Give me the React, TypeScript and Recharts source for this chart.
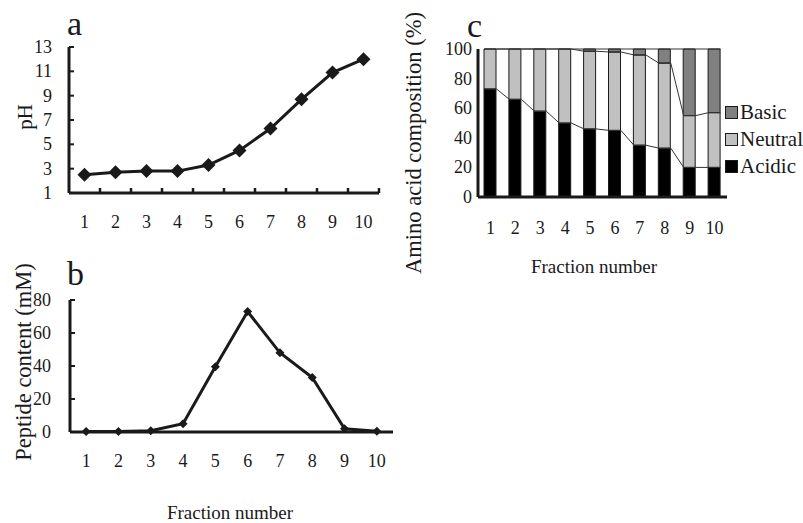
import {
  Bar,
  ComposedChart,
  Legend,
  Line,
  LineChart,
  XAxis,
  YAxis,
} from 'recharts'

const fractions = ['1', '2', '3', '4', '5', '6', '7', '8', '9', '10']
const phValues = [2.5, 2.7, 2.8, 2.8, 3.3, 4.5, 6.3, 8.7, 10.9, 12.0]
const phTicks = [1, 3, 5, 7, 9, 11, 13]
const peptideValues = [0.3, 0.3, 0.8, 5, 39.5, 73, 48, 33, 2, 0.5]
const peptideTicks = [0, 20, 40, 60, 80]
const acidicValues = [73, 66, 58, 50, 46, 45, 35, 33, 20, 20]
const neutralValues = [27, 34, 42, 50, 52.5, 53, 61, 57.5, 35, 37]
const basicValues = [0, 0, 0, 0, 1.5, 2, 4, 9.5, 45, 43]
const compositionTicks = [0, 20, 40, 60, 80, 100]
const legendOrder = ['Basic', 'Neutral', 'Acidic']

const FONT = '"Liberation Serif", "Times New Roman", serif'
const INK = '#1a1a1a'
const ACIDIC = '#000000'
const NEUTRAL = '#c0c0c0'
const BASIC = '#808080'

const phData = fractions.map((f, i) => ({ fraction: f, ph: phValues[i] }))
const peptideData = fractions.map((f, i) => ({ fraction: f, peptide: peptideValues[i] }))
const compositionData = fractions.map((f, i) => ({
  fraction: f,
  acidic: acidicValues[i],
  neutral: neutralValues[i],
  basic: basicValues[i],
}))

// series lines of panel c join the tops of the stacked segments, bar edge to bar edge
const C_PLOT_W = 249
const BAR_W = 12
const halfBar = BAR_W / 2 / (C_PLOT_W / fractions.length)
const acidicTops = acidicValues
const neutralTops = acidicValues.map((v, i) => v + neutralValues[i])
const basicTops = neutralTops.map((v, i) => v + basicValues[i])
function seriesLine(tops: number[]) {
  return tops.flatMap((v, i) => [
    { x: i + 1 - halfBar, y: v },
    { x: i + 1 + halfBar, y: v },
  ])
}

function diamond(r: number) {
  return (props: any) => {
    const { cx, cy, index } = props
    return (
      <path
        key={index}
        d={`M${cx},${cy - r}L${cx + r},${cy}L${cx},${cy + r}L${cx - r},${cy}Z`}
        fill={INK}
      />
    )
  }
}

function yTick(margin: number, inner: number) {
  return (props: any) => {
    const { x, y, payload } = props
    return (
      <g>
        <text x={x} y={y} textAnchor="end" dominantBaseline="central" fontSize={18} fontFamily={FONT} fill={INK}>
          {payload.value}
        </text>
        {inner > 0 && <line x1={x + margin} x2={x + margin + inner} y1={y} y2={y} stroke={INK} strokeWidth={2} />}
      </g>
    )
  }
}

function xTick(dy: number, between: number) {
  return (props: any) => {
    const { x, y, payload } = props
    return (
      <g>
        <text x={x} y={y + dy} textAnchor="middle" dominantBaseline="central" fontSize={18} fontFamily={FONT} fill={INK}>
          {payload.value}
        </text>
        {between > 0 && <line x1={x + between} x2={x + between} y1={y} y2={y - 5} stroke={INK} strokeWidth={2.5} />}
      </g>
    )
  }
}

function rotatedTitle(text: string, cx: number, cy: number, size: number) {
  return () => (
    <text
      x={cx}
      y={cy}
      transform={`rotate(-90 ${cx} ${cy})`}
      textAnchor="middle"
      dominantBaseline="central"
      fontSize={size}
      fontFamily={FONT}
      fill={INK}
    >
      {text}
    </text>
  )
}

function bottomTitle(text: string, cx: number, cy: number, size: number) {
  return () => (
    <text x={cx} y={cy} textAnchor="middle" dominantBaseline="central" fontSize={size} fontFamily={FONT} fill={INK}>
      {text}
    </text>
  )
}

function CompositionLegend(props: any) {
  const payload = props.payload ?? []
  const items = legendOrder
    .map((name) => payload.find((p: any) => p.value === name))
    .filter(Boolean)
  return (
    <div style={{ fontFamily: FONT, fontSize: 21, color: INK, marginLeft: -2 }}>
      {items.map((item: any) => (
        <div key={item.value} style={{ display: 'flex', alignItems: 'center', height: 27, whiteSpace: 'nowrap' }}>
          <span
            style={{
              display: 'inline-block',
              width: 11,
              height: 11,
              background: item.color,
              border: `1.5px solid ${INK}`,
              marginRight: 2,
            }}
          />
          {item.value}
        </div>
      ))}
    </div>
  )
}

const axisStyle = { stroke: INK, strokeWidth: 3 }

export default function App() {
  return (
    <div style={{ position: 'absolute', left: 0, top: 0, width: 803, height: 523, background: '#fff' }}>
      <div style={{ position: 'absolute', left: 0, top: 0 }}>
        <LineChart width={400} height={240} data={phData} margin={{ top: 47, right: 21, bottom: 17, left: 29 }}>
          <XAxis
            dataKey="fraction"
            padding={{ left: 15.5, right: 15.5 }}
            axisLine={axisStyle}
            tickLine={false}
            tickSize={0}
            tickMargin={0}
            height={30}
            interval={0}
            tick={xTick(29, 15.5)}
          />
          <YAxis
            domain={[1, 13]}
            ticks={phTicks}
            width={40}
            axisLine={axisStyle}
            tickLine={false}
            tickSize={0}
            tickMargin={17}
            tick={yTick(17, 5)}
            label={rotatedTitle('pH', 25, 117, 21)}
          />
          <Line
            dataKey="ph"
            stroke={INK}
            strokeWidth={3}
            dot={diamond(7)}
            activeDot={false}
            isAnimationActive={false}
          />
        </LineChart>
      </div>

      <div style={{ position: 'absolute', left: 0, top: 250 }}>
        <LineChart width={410} height={273} data={peptideData} margin={{ top: 50, right: 17, bottom: 31, left: 30 }}>
          <XAxis
            dataKey="fraction"
            padding={{ left: 16.15, right: 16.15 }}
            axisLine={axisStyle}
            tickLine={false}
            tickSize={0}
            tickMargin={0}
            height={60}
            interval={0}
            tick={xTick(29, 0)}
            label={bottomTitle('Fraction number', 230, 262, 19)}
          />
          <YAxis
            domain={[0, 80]}
            ticks={peptideTicks}
            width={40}
            axisLine={axisStyle}
            tickLine={false}
            tickSize={0}
            tickMargin={19}
            tick={yTick(19, 5)}
            label={rotatedTitle('Peptide content (mM)', 23, 112, 22.5)}
          />
          <Line
            dataKey="peptide"
            stroke={INK}
            strokeWidth={3}
            dot={diamond(4.5)}
            activeDot={false}
            isAnimationActive={false}
          />
        </LineChart>
      </div>

      <div style={{ position: 'absolute', left: 400, top: 0 }}>
        <ComposedChart
          width={403}
          height={290}
          data={compositionData}
          margin={{ top: 49, right: 0, bottom: 33, left: 38 }}
        >
          <XAxis
            xAxisId="cat"
            dataKey="fraction"
            axisLine={axisStyle}
            tickLine={false}
            tickSize={0}
            tickMargin={0}
            height={60}
            interval={0}
            tick={xTick(31, 0)}
            label={bottomTitle('Fraction number', 194, 266, 19)}
          />
          <XAxis xAxisId="num" type="number" dataKey="x" domain={[0.5, 10.5]} allowDataOverflow hide />
          <YAxis
            domain={[0, 100]}
            ticks={compositionTicks}
            width={40}
            axisLine={axisStyle}
            tickLine={false}
            tickSize={0}
            tickMargin={6}
            tick={yTick(6, 0)}
            label={rotatedTitle('Amino acid composition (%)', 13, 143, 22.5)}
          />
          <Legend
            layout="vertical"
            align="right"
            verticalAlign="top"
            width={76}
            wrapperStyle={{ top: 99 }}
            content={CompositionLegend}
          />
          <Bar xAxisId="cat" dataKey="acidic" name="Acidic" stackId="s" fill={ACIDIC} stroke={INK} strokeWidth={1} barSize={BAR_W} isAnimationActive={false} />
          <Bar xAxisId="cat" dataKey="neutral" name="Neutral" stackId="s" fill={NEUTRAL} stroke={INK} strokeWidth={1} barSize={BAR_W} isAnimationActive={false} />
          <Bar xAxisId="cat" dataKey="basic" name="Basic" stackId="s" fill={BASIC} stroke={INK} strokeWidth={1} barSize={BAR_W} isAnimationActive={false} />
          {[acidicTops, neutralTops, basicTops].map((tops, k) => (
            <Line
              key={k}
              xAxisId="num"
              data={seriesLine(tops)}
              dataKey="y"
              stroke="#333"
              strokeWidth={1}
              dot={false}
              activeDot={false}
              legendType="none"
              isAnimationActive={false}
            />
          ))}
        </ComposedChart>
      </div>

      <svg width={803} height={523} style={{ position: 'absolute', left: 0, top: 0, pointerEvents: 'none' }}>
        <text x={67} y={35} fontSize={34} fontFamily={FONT} fill={INK}>a</text>
        <text x={67} y={285} fontSize={34} fontFamily={FONT} fill={INK}>b</text>
        <text x={467} y={37} fontSize={34} fontFamily={FONT} fill={INK}>c</text>
      </svg>
    </div>
  )
}
